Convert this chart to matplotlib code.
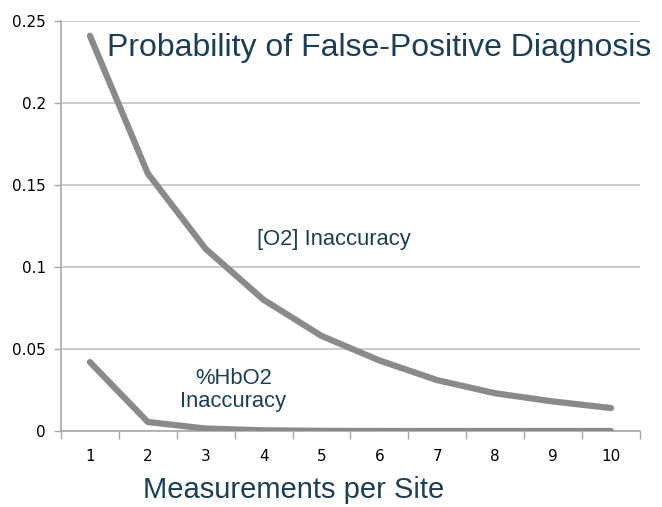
import matplotlib.pyplot as plt

# values
measurements = [1, 2, 3, 4, 5, 6, 7, 8, 9, 10]
o2_inaccuracy = [0.241, 0.157, 0.111, 0.080, 0.058, 0.043, 0.031, 0.023, 0.018, 0.014]
hbo2_inaccuracy = [0.042, 0.0055, 0.0015, 0.0004, 0.0001, 0, 0, 0, 0, 0]
y_ticks = [0, 0.05, 0.1, 0.15, 0.2, 0.25]
y_tick_labels = ["0", "0.05", "0.1", "0.15", "0.2", "0.25"]

text_color = "#1c3f57"
line_color = "#8a8a8a"
grid_color = "#c4c4c4"

fig = plt.figure(figsize=(6.62, 5.07), dpi=100)
ax = fig.add_axes([0.0921, 0.1499, 0.8746, 0.8087])

ax.plot(measurements, o2_inaccuracy, color=line_color, lw=4.5,
        solid_capstyle="round", solid_joinstyle="round", zorder=3)
ax.plot(measurements, hbo2_inaccuracy, color=line_color, lw=4.5,
        solid_capstyle="round", solid_joinstyle="round", zorder=3)

ax.set_xlim(0.5, 10.5)
ax.set_ylim(0, 0.25)
ax.set_yticks(y_ticks)
ax.set_yticklabels(y_tick_labels)
ax.set_xticks(measurements)
ax.set_xticks([m + 0.5 for m in [0] + measurements], minor=True)
ax.tick_params(axis="x", which="major", length=0, pad=13, labelsize=11)
ax.tick_params(axis="x", which="minor", length=6, color="#a8a8a8", width=1)
ax.tick_params(axis="y", length=5, color="#a8a8a8", width=1, pad=6, labelsize=11)

ax.grid(axis="y", color=grid_color, lw=1.2)
ax.set_axisbelow(True)
for side in ["top", "right"]:
    ax.spines[side].set_visible(False)
for side in ["left", "bottom"]:
    ax.spines[side].set_color("#a8a8a8")
    ax.spines[side].set_linewidth(1.2)

ax.text(5.22, 0.117, "[O2] Inaccuracy", fontsize=15.8, color=text_color,
        ha="center", va="center", family="Liberation Sans")
ax.text(3.48, 0.025, "%HbO2\nInaccuracy", fontsize=15.8, color=text_color,
        ha="center", va="center", family="Liberation Sans", linespacing=1.1)

fig.text(0.1616, 0.905, "Probability of False-Positive Diagnosis", fontsize=23,
         color=text_color, ha="left", va="center", family="Liberation Sans")
fig.text(0.4434, 0.034, "Measurements per Site", fontsize=21,
         color=text_color, ha="center", va="center", family="Liberation Sans")

fig.savefig("out.png", dpi=100)
